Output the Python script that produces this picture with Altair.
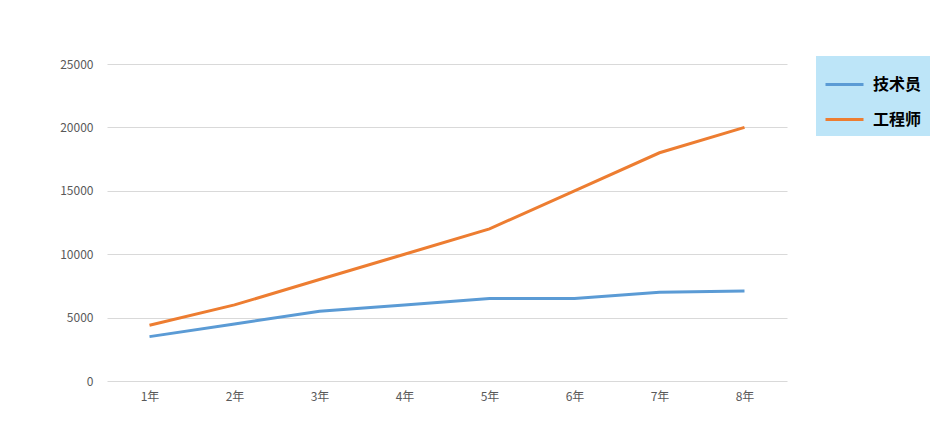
import altair as alt
import pandas as pd

years = ["1年", "2年", "3年", "4年", "5年", "6年", "7年", "8年"]
series_names = ["技术员", "工程师"]
technician = [3500, 4500, 5500, 6000, 6500, 6500, 7000, 7100]
engineer = [4400, 6000, 8000, 10000, 12000, 15000, 18000, 20000]
y_ticks = [0, 5000, 10000, 15000, 20000, 25000]

rows = []
for i, y in enumerate(years):
    rows.append({"year": y, "series": series_names[0], "value": technician[i]})
    rows.append({"year": y, "series": series_names[1], "value": engineer[i]})
df = pd.DataFrame(rows)

font = "Noto Sans CJK SC"

chart = (
    alt.Chart(df)
    .mark_line(strokeWidth=3)
    .encode(
        x=alt.X(
            "year:N",
            sort=years,
            scale=alt.Scale(paddingInner=1, paddingOuter=0.5),
            axis=alt.Axis(
                title=None, domain=False, ticks=False, grid=False,
                labelAngle=0, labelColor="#595959", labelFontSize=12,
                labelFont=font, labelPadding=10,
            ),
        ),
        y=alt.Y(
            "value:Q",
            scale=alt.Scale(domain=[0, 25000], nice=False),
            axis=alt.Axis(
                title=None, domain=False, ticks=False, values=y_ticks,
                format="d",
                labelColor="#595959", labelFontSize=12, labelFont=font,
                labelPadding=14, gridColor="#d9d9d9", gridWidth=1,
            ),
        ),
        color=alt.Color(
            "series:N",
            sort=series_names,
            scale=alt.Scale(domain=series_names, range=["#5b9bd5", "#ed7d31"]),
            legend=alt.Legend(
                title=None, orient="none", legendX=709, legendY=-8,
                fillColor="#bde5f8", padding=8,
                symbolType="stroke", symbolSize=1444, symbolStrokeWidth=3,
                labelFontSize=16, labelFontWeight="bold", labelColor="#000000",
                labelFont=font, rowPadding=6, labelOffset=8,
            ),
        ),
    )
    .properties(
        width=680,
        height=317,
        background="#ffffff",
        autosize=alt.AutoSizeParams(type="none"),
        padding={"left": 99, "top": 56, "right": 143, "bottom": 42},
    )
    .configure_view(strokeWidth=0, stroke="transparent")
)

chart.save("out.html", embed_options={"renderer": "svg", "actions": False})
